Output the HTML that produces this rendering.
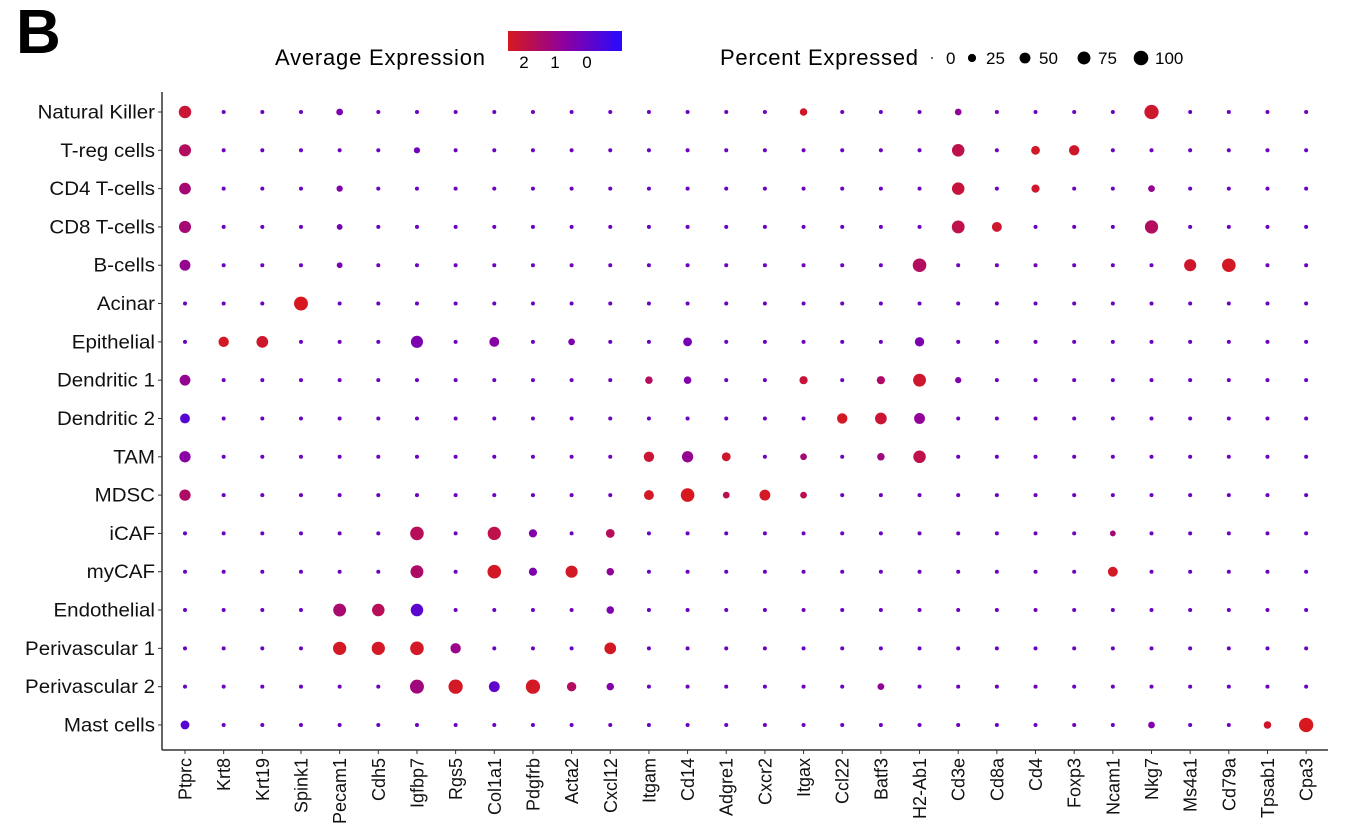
<!DOCTYPE html>
<html><head><meta charset="utf-8">
<style>
html,body{margin:0;padding:0;background:#fff;}
svg{display:block;font-family:"Liberation Sans",Arial,sans-serif;}
</style></head>
<body>
<svg id="chart" width="1356" height="840" viewBox="0 0 1356 840">
<defs>
<linearGradient id="cg" x1="0" x2="1" y1="0" y2="0">
<stop offset="0" stop-color="rgb(215,25,30)"/>
<stop offset="0.5" stop-color="rgb(140,0,160)"/>
<stop offset="1" stop-color="rgb(40,10,255)"/>
</linearGradient>
</defs>
<text x="16" y="53" font-size="62" font-weight="bold">B</text>
<g>
<text x="275" y="65" font-size="22" textLength="210">Average Expression</text>
<rect x="508" y="31" width="114" height="20" fill="url(#cg)"/>
<text x="524" y="68" font-size="17" text-anchor="middle">2</text>
<text x="555" y="68" font-size="17" text-anchor="middle">1</text>
<text x="587" y="68" font-size="17" text-anchor="middle">0</text>
</g>
<g id="sizeLegend">
<text x="720" y="65" font-size="22" textLength="198">Percent Expressed</text>
</g>
<g id="plot"></g>
</svg>
<script>
const cellTypes=["Natural Killer","T-reg cells","CD4 T-cells","CD8 T-cells","B-cells","Acinar","Epithelial","Dendritic 1","Dendritic 2","TAM","MDSC","iCAF","myCAF","Endothelial","Perivascular 1","Perivascular 2","Mast cells"];
const genes=["Ptprc","Krt8","Krt19","Spink1","Pecam1","Cdh5","Igfbp7","Rgs5","Col1a1","Pdgfrb","Acta2","Cxcl12","Itgam","Cd14","Adgre1","Cxcr2","Itgax","Ccl22","Batf3","H2-Ab1","Cd3e","Cd8a","Cd4","Foxp3","Ncam1","Nkg7","Ms4a1","Cd79a","Tpsab1","Cpa3"];
const basePct=3;
const baseExpr=0.1;
const hiRow= [0,0,0,0,0, 1,1,1,1,1, 2,2,2,2,2, 3,3,3,3,3, 4,4,4,4,4, 5, 6,6,6,6,6,6,6, 7,7,7,7,7,7,7, 8,8,8,8, 9,9,9,9,9,9,9, 10,10,10,10,10,10, 11,11,11,11,11, 12,12,12,12,12,12, 13,13,13,13, 14,14,14,14,14, 15,15,15,15,15,15,15, 16,16,16,16];
const hiGene=[0,4,16,20,25, 0,6,20,22,23, 0,4,20,22,25, 0,4,20,21,25, 0,4,19,26,27, 3, 1,2,6,8,10,13,19, 0,12,13,16,18,19,20, 0,17,18,19, 0,12,13,14,16,18,19, 0,12,13,14,15,16, 6,8,9,11,24, 6,8,9,10,11,24, 4,5,6,11, 4,5,6,7,11, 6,7,8,9,10,11,18, 0,25,28,29];
const hiPct= [70,15,20,15,95, 65,12,70,30,45, 60,12,70,25,15, 65,10,75,40,80, 50,10,85,65,85, 90, 45,60,65,40,15,30,35, 50,20,20,25,25,75,12, 40,45,60,50, 55,45,55,30,15,20,70, 55,40,85,15,50,15, 85,80,25,30,10, 75,85,25,65,20,40, 75,70,70,20, 80,80,85,45,60, 90,95,50,95,35,20,15, 30,15,20,95];
const hiExpr=[2.2,0.4,2.3,0.8,2.3, 1.6,0.2,1.9,2.4,2.3, 1.3,0.5,2.1,2.3,0.9, 1.3,0.3,1.9,2.3,1.6, 0.9,0.3,1.6,2.3,2.4, 2.5, 2.4,2.3,0.4,0.6,0.4,0.3,0.4, 0.9,1.6,0.5,2.1,1.5,2.3,0.5, -0.3,2.4,2.2,0.8, 0.6,2.2,0.9,2.3,1.3,1.2,1.9, 1.5,2.4,2.5,1.8,2.4,1.8, 1.7,1.9,0.5,1.7,1.3, 1.5,2.4,0.4,2.4,0.8,2.4, 1.4,1.7,-0.2,0.4, 2.4,2.4,2.4,1.0,2.4, 1.2,2.4,-0.1,2.4,1.6,0.5,0.8, -0.3,0.5,2.3,2.5];
const legendPct=[0,25,50,75,100];

const NS="http://www.w3.org/2000/svg";
const X0=185, DX=38.66, Y0=112, DY=38.31;
function xScale(i){return X0+i*DX;}
function yScale(j){return Y0+j*DY;}
function rScale(p){return 0.9+6.4*Math.sqrt(p/100);}
function lerp(a,b,t){return a.map((v,k)=>Math.round(v+(b[k]-v)*t));}
function colorScale(v){
  let t=0.31+0.275*v; t=Math.max(0,Math.min(1,t));
  const blue=[40,10,255],purp=[140,0,160],red=[215,25,30];
  const c=t<0.5?lerp(blue,purp,t/0.5):lerp(purp,red,(t-0.5)/0.5);
  return "rgb("+c.join(",")+")";
}
function mk(tag,attrs,parent){const e=document.createElementNS(NS,tag);for(const k in attrs)e.setAttribute(k,attrs[k]);parent.appendChild(e);return e;}
const plot=document.getElementById("plot");
const yAxis=mk("line",{x1:162,y1:92,x2:162,y2:750,stroke:"#333","stroke-width":1.5},plot);


const xAxis=mk("line",{x1:162,y1:750,x2:1328,y2:750,stroke:"#333","stroke-width":1.5},plot);


const pct=cellTypes.map(()=>genes.map(()=>basePct));
const expr=cellTypes.map(()=>genes.map(()=>baseExpr));
for(let k=0;k<hiRow.length;k++){pct[hiRow[k]][hiGene[k]]=hiPct[k];expr[hiRow[k]][hiGene[k]]=hiExpr[k];}
cellTypes.forEach((c,j)=>{
  const y=yScale(j);
  mk("line",{x1:158,y1:y,x2:162,y2:y,stroke:"#333","stroke-width":1},plot);
  const t=mk("text",{x:0,y:0,"font-size":19,"text-anchor":"end",fill:"#111",transform:"translate(155,"+(y+6.5)+") scale(1.08,1)"},plot);
  t.textContent=c;
  
  
});
genes.forEach((g,i)=>{
  const x=xScale(i);
  mk("line",{x1:x,y1:750,x2:x,y2:754,stroke:"#333","stroke-width":1},plot);
  const t=mk("text",{x:0,y:0,"font-size":18,"text-anchor":"end",fill:"#111",transform:"translate("+(x+6.5)+",758) rotate(-90)"},plot);
  t.textContent=g;
  
  
});
cellTypes.forEach((c,j)=>{genes.forEach((g,i)=>{
  const d=mk("circle",{cx:xScale(i),cy:yScale(j),r:rScale(pct[j][i]).toFixed(2),fill:colorScale(expr[j][i])},plot);
  
  
});});
const sl=document.getElementById("sizeLegend");
const lx=[932,972,1025,1084,1141];
legendPct.forEach((p,k)=>{
  const c=mk("circle",{cx:lx[k],cy:58,r:rScale(p).toFixed(2),fill:"#000"},sl);
  
  
  const t=mk("text",{x:lx[k]+14,y:64,"font-size":17},sl);
  t.textContent=p;
});
</script>
</body></html>
